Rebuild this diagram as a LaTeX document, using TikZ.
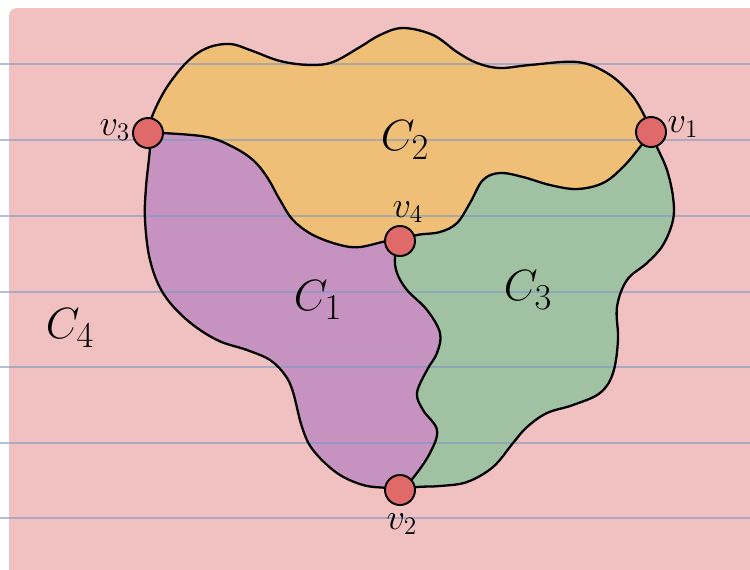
\documentclass[tikz,border=0pt]{standalone}
\usepackage{tikz}

\definecolor{pagepink}{HTML}{F1C0C1}
\definecolor{faceorange}{HTML}{F0BF77}
\definecolor{facepurple}{HTML}{C692C0}
\definecolor{facegreen}{HTML}{A0C1A2}
\definecolor{rulecol}{HTML}{7F98C2}
\definecolor{dotred}{HTML}{E06A6A}

\newcommand\edgeA{-- plot[smooth,tension=0.6] coordinates {(p3) (153,114) (167,87) (187,62) (207,48) (230,44) (250,50) (280,61) (310,65) (333,62) (360,47) (380,35) (403,28) (433,35) (457,52) (477,63) (500,68) (530,65) (577,62) (607,73) (630,93) (643,113) (p1)}}
\newcommand\edgeB{-- plot[smooth,tension=0.6] coordinates {(p3) (163,133) (207,137) (233,147) (253,160) (267,177) (280,200) (293,220) (313,235) (340,245) (360,247) (387,241) (p4)}}
\newcommand\edgeC{-- plot[smooth,tension=0.6] coordinates {(p1) (640,147) (623,167) (603,183) (577,189) (550,185) (523,177) (500,173) (483,180) (470,203) (457,223) (440,232) (417,235) (p4)}}
\newcommand\edgeD{-- plot[smooth,tension=0.6] coordinates {(p2) (387,488) (363,485) (337,473) (313,450) (302,427) (293,392) (285,375) (270,360) (247,350) (217,340) (187,320) (163,293) (150,260) (145,220) (146,187) (150,147) (p3)}}
\newcommand\edgeE{-- plot[smooth,tension=0.6] coordinates {(p4) (395,257) (397,273) (407,290) (427,310) (440,333) (437,353) (427,370) (417,393) (423,410) (437,430) (430,453) (413,478) (p2)}}
\newcommand\edgeF{-- plot[smooth,tension=0.6] coordinates {(p1) (657,147) (667,170) (673,197) (673,220) (663,245) (647,263) (627,280) (617,307) (618,340) (613,373) (600,393) (573,405) (547,413) (527,427) (513,443) (493,467) (467,482) (440,486) (417,487) (p2)}}

\begin{document}
\begin{tikzpicture}[x=0.2mm, y=-0.2mm,
	border/.style={line width=1.3pt, line join=round, line cap=round},
	vertex/.style={circle, draw, line width=1.1pt, fill=dotred, minimum size=6mm, inner sep=0pt},
	vlbl/.style={font=\huge},
	clbl/.style={font=\Huge}]
	\useasboundingbox (0,0) rectangle (750,569);
	\fill[pagepink, rounded corners=1.6mm] (9,8) rectangle (760,580);
	\coordinate (p1) at (651,132);
	\coordinate (p2) at (400,490);
	\coordinate (p3) at (148,133);
	\coordinate (p4) at (400,241);
	\fill[facegreen] (p3) \edgeA \edgeF \edgeD -- cycle;
	\fill[faceorange] (p3) \edgeA \edgeC \edgeE \edgeD -- cycle;
	\fill[facepurple] (p3) \edgeB \edgeE \edgeD -- cycle;
	\foreach \y in {64,140,216,292,367,443,518} {
		\draw[rulecol, opacity=0.6, line width=1pt] (0,\y) -- (750,\y);
	}
	\foreach \s/\e in {p3/\edgeA, p3/\edgeB, p1/\edgeC, p2/\edgeD, p4/\edgeE, p1/\edgeF} {
		\draw[border] (\s) \e;
	}
	\foreach \n in {1,2,3,4} {
		\node[vertex] (v\n) at (p\n) {};
	}
	\node[vlbl] (l1) at (683,127) {$v_1$};
	\node[vlbl] (l2) at (402,524) {$v_2$};
	\node[vlbl] (l3) at (115,130) {$v_3$};
	\node[vlbl] (l4) at (408,212) {$v_4$};
	\node[clbl] (c1) at (318,300) {$C_1$};
	\node[clbl] (c2) at (405,140) {$C_2$};
	\node[clbl] (c3) at (528,290) {$C_3$};
	\node[clbl] (c4) at (70,328) {$C_4$};
\end{tikzpicture}
\end{document}
